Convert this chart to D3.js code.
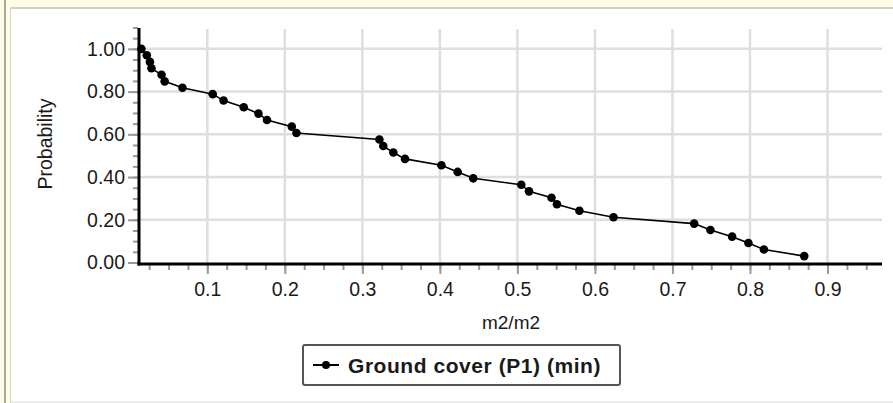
<!DOCTYPE html>
<html>
<head>
<meta charset="utf-8">
<script src="https://cdn.jsdelivr.net/npm/d3@7"></script>
<style>
  html, body { margin: 0; padding: 0; background: #fffde3; }
  svg { display: block; font-family: "Liberation Sans", Arial, sans-serif; }
  .tick text { fill: #1a1a1a; }
</style>
</head>
<body>
<svg id="chart" width="893" height="403"></svg>
<script>
// values (cumulative exceedance probability)
const coverValues = [0.015, 0.022, 0.026, 0.028, 0.041, 0.045, 0.068, 0.107, 0.121, 0.147, 0.166,
  0.177, 0.209, 0.215, 0.322, 0.327, 0.340, 0.355, 0.402, 0.423, 0.443, 0.505, 0.515,
  0.544, 0.551, 0.580, 0.624, 0.728, 0.749, 0.777, 0.798, 0.818, 0.870];
const probValues = [1.000, 0.970, 0.939, 0.909, 0.879, 0.848, 0.818, 0.788, 0.758, 0.727, 0.697,
  0.667, 0.636, 0.606, 0.576, 0.545, 0.515, 0.485, 0.455, 0.424, 0.394, 0.364, 0.333,
  0.303, 0.273, 0.242, 0.212, 0.182, 0.152, 0.121, 0.091, 0.061, 0.030];
const xTicks = [0.1, 0.2, 0.3, 0.4, 0.5, 0.6, 0.7, 0.8, 0.9];
const yTicks = [0, 0.2, 0.4, 0.6, 0.8, 1.0];
const seriesName = 'Ground cover (P1) (min)';

const points = coverValues.map((v, i) => ({ x: v, y: probValues[i] }));

const svg = d3.select('#chart');

// frame around the panel
svg.append('rect').attr('width', 893).attr('height', 403).attr('fill', '#fffde3');
svg.append('rect').attr('x', 4).attr('y', 0).attr('width', 2).attr('height', 403).attr('fill', '#a8a8a0');
svg.append('rect').attr('x', 10).attr('y', 7).attr('width', 883).attr('height', 396).attr('fill', '#d2d2cc');
svg.append('rect').attr('x', 11).attr('y', 9).attr('width', 882).attr('height', 392).attr('fill', '#fff');
svg.append('rect').attr('x', 11).attr('y', 401).attr('width', 882).attr('height', 2).attr('fill', '#ececec');

const x = d3.scaleLinear().domain([0.0132, 0.969]).range([140, 881]);
const y = d3.scaleLinear().domain([0, 1.1]).range([262.5, 27.5]);

// grid
const grid = svg.append('g').attr('stroke', '#dedede').attr('stroke-width', 2.5);
grid.selectAll('line.v').data(xTicks).join('line')
  .attr('x1', d => x(d)).attr('x2', d => x(d))
  .attr('y1', 29).attr('y2', 263);
grid.selectAll('line.h').data(yTicks.filter(d => d > 0)).join('line')
  .attr('x1', 140).attr('x2', 882)
  .attr('y1', d => y(d)).attr('y2', d => y(d));

// minor ticks
const minorX = d3.range(0.025, 0.97, 0.025).filter(d => x(d) > 141);
const minorY = d3.range(0.05, 1.11, 0.05);
svg.append('g').attr('transform', 'translate(0,264)')
  .call(d3.axisBottom(x).tickValues(minorX).tickSize(6).tickFormat(''))
  .call(g => g.select('.domain').remove())
  .call(g => g.selectAll('line').attr('stroke', '#999').attr('stroke-width', 2));
svg.append('g').attr('transform', 'translate(138,0)')
  .call(d3.axisLeft(y).tickValues(minorY).tickSize(5).tickFormat(''))
  .call(g => g.select('.domain').remove())
  .call(g => g.selectAll('line').attr('stroke', '#999').attr('stroke-width', 2));

// major ticks and labels
svg.append('g').attr('transform', 'translate(0,264)')
  .call(d3.axisBottom(x).tickValues(xTicks).tickSize(10).tickPadding(8).tickFormat(d3.format('.1f')))
  .call(g => g.select('.domain').remove())
  .call(g => g.selectAll('line').attr('stroke', '#999').attr('stroke-width', 2))
  .call(g => g.selectAll('text').attr('font-size', 19.5));
svg.append('g').attr('transform', 'translate(138,0)')
  .call(d3.axisLeft(y).tickValues(yTicks).tickSize(10).tickPadding(3).tickFormat(d3.format('.2f')))
  .call(g => g.select('.domain').remove())
  .call(g => g.selectAll('line').attr('stroke', '#999').attr('stroke-width', 2))
  .call(g => g.selectAll('text').attr('font-size', 19.5));

// axis lines
svg.append('line').attr('x1', 139).attr('x2', 139).attr('y1', 28).attr('y2', 265.5)
  .attr('stroke', '#000').attr('stroke-width', 3);
svg.append('line').attr('x1', 137.5).attr('x2', 882).attr('y1', 264).attr('y2', 264)
  .attr('stroke', '#000').attr('stroke-width', 3);

// titles
svg.append('text').attr('x', 511).attr('y', 329).attr('text-anchor', 'middle')
  .attr('font-size', 19).attr('fill', '#1a1a1a').text('m2/m2');
svg.append('text').attr('transform', 'translate(52,144) rotate(-90)').attr('text-anchor', 'middle')
  .attr('font-size', 19.5).attr('fill', '#1a1a1a').text('Probability');

// series
const line = d3.line().x(d => x(d.x)).y(d => y(d.y));
svg.append('path').datum(points).attr('d', line)
  .attr('fill', 'none').attr('stroke', '#000').attr('stroke-width', 1.6);
svg.append('g').selectAll('circle').data(points).join('circle')
  .attr('cx', d => x(d.x)).attr('cy', d => y(d.y)).attr('r', 4.3).attr('fill', '#000');

// legend
const lg = svg.append('g');
lg.append('rect').attr('x', 303).attr('y', 345).attr('width', 317).attr('height', 40).attr('rx', 2)
  .attr('fill', '#fff').attr('stroke', '#555').attr('stroke-width', 2);
lg.append('line').attr('x1', 313).attr('x2', 339).attr('y1', 365).attr('y2', 365)
  .attr('stroke', '#000').attr('stroke-width', 2);
lg.append('circle').attr('cx', 326).attr('cy', 365).attr('r', 4).attr('fill', '#000');
lg.append('text').attr('x', 348).attr('y', 372.5).attr('font-size', 21).attr('font-weight', 'bold')
  .attr('letter-spacing', 0.55).attr('fill', '#1a1a1a').text(seriesName);
</script>
</body>
</html>
